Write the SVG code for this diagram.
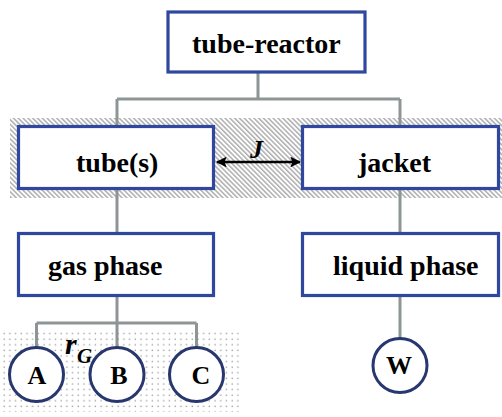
<svg xmlns="http://www.w3.org/2000/svg" width="502" height="417" viewBox="0 0 502 417">
<style>
.box{fill:#fff;stroke:#2F479E;stroke-width:3.2}
.circ{fill:#fff;stroke:#28386F;stroke-width:3}
.lbl{font-family:"Liberation Serif","Times New Roman",serif;font-weight:bold;font-size:28px;fill:#000}
.cl{font-family:"Liberation Serif","Times New Roman",serif;font-weight:bold;font-size:26px;fill:#000;text-anchor:middle}
.conn{fill:none;stroke:#8D9595;stroke-width:3}
.it{font-family:"Liberation Serif","Times New Roman",serif;font-style:italic;font-weight:bold;fill:#000}
</style>
<defs>
<pattern id="hatch" width="3.4" height="3.4" patternUnits="userSpaceOnUse" patternTransform="rotate(-45)">
<line x1="0.8" y1="0" x2="0.8" y2="3.4" stroke="#8f8f8f" stroke-width="1.1"/>
</pattern>
<pattern id="dots" width="5.7" height="5.6" patternUnits="userSpaceOnUse" x="2" y="1">
<rect x="1.5" y="1.5" width="1.4" height="1.4" fill="#a0a0a0"/>
</pattern>
<marker id="ah" viewBox="0 0 10 10" refX="9" refY="5" markerWidth="5" markerHeight="4.5" orient="auto-start-reverse" markerUnits="strokeWidth">
<path d="M0,0 L10,5 L0,10 L2,5 Z" fill="#000"/>
</marker>
</defs>
<rect x="10" y="118" width="492" height="80" fill="url(#hatch)"/>
<rect x="0" y="330" width="242" height="82" fill="url(#dots)"/>
<g id="connectors">
<path class="conn" d="M258,73 V99 M117,99 H400 M117,99 V126 M400,99 V126"/>
<path class="conn" d="M117,189 V233 M400,189 V233"/>
<path class="conn" d="M117,296 V323 M36.5,323 H196.5 M36.5,323 V347 M117,323 V347 M196.5,323 V347"/>
<path class="conn" d="M400,296 V338"/>
<line x1="217" y1="162" x2="300" y2="162" stroke="#000" stroke-width="2.4" marker-start="url(#ah)" marker-end="url(#ah)"/>
<text class="it" x="250" y="158" font-size="26">J</text>
<text class="it" x="65" y="354" font-size="30">r</text>
<text class="it" x="77" y="363" font-size="21">G</text>
</g>
<g id="tube-reactor"><rect class="box" x="168" y="12" width="197" height="60"/><text class="lbl" x="192" y="53">tube-reactor</text></g>
<g id="tubes"><rect class="box" x="18.5" y="126.5" width="195" height="62"/><text class="lbl" x="76" y="172">tube(s)</text></g>
<g id="jacket"><rect class="box" x="302.5" y="126.5" width="196" height="62"/><text class="lbl" x="358" y="172">jacket</text></g>
<g id="gas-phase"><rect class="box" x="18.5" y="233.5" width="195" height="62"/><text class="lbl" x="48" y="275">gas phase</text></g>
<g id="liquid-phase"><rect class="box" x="302.5" y="233.5" width="196" height="62"/><text class="lbl" x="333" y="275">liquid phase</text></g>
<g id="A"><circle class="circ" cx="36.5" cy="374.5" r="27"/><text class="cl" x="37" y="384">A</text></g>
<g id="B"><circle class="circ" cx="117" cy="374.5" r="27"/><text class="cl" x="119" y="384">B</text></g>
<g id="C"><circle class="circ" cx="196.5" cy="374.5" r="27"/><text class="cl" x="201" y="384">C</text></g>
<g id="W"><circle class="circ" cx="400" cy="365.5" r="27"/><text class="cl" x="399" y="374">W</text></g>
</svg>
